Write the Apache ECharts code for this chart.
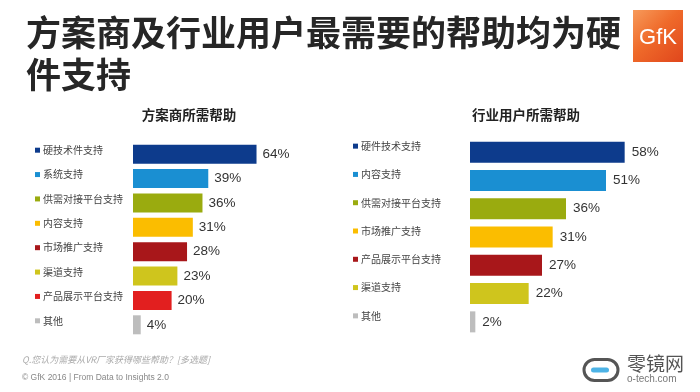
<!DOCTYPE html>
<html>
<head>
<meta charset="utf-8">
<script src="https://cdn.jsdelivr.net/npm/echarts@6/dist/echarts.min.js"></script>
<style>
html,body{margin:0;padding:0;background:#fff;}
#c{width:700px;height:392px;}
</style>
</head>
<body>
<div id="c"></div>
<script>
// ---- data ----
const leftCategories = ['硬技术件支持','系统支持','供需对接平台支持','内容支持','市场推广支持','渠道支持','产品展示平台支持','其他'];
const leftValues = [64,39,36,31,28,23,20,4];
const rightCategories = ['硬件技术支持','内容支持','供需对接平台支持','市场推广支持','产品展示平台支持','渠道支持','其他'];
const rightValues = [58,51,36,31,27,22,2];
const mainTitleLine1 = '方案商及行业用户最需要的帮助均为硬';
const mainTitleLine2 = '件支持';
const leftSubtitle = '方案商所需帮助';
const rightSubtitle = '行业用户所需帮助';
const footnote1 = 'Q.您认为需要从VR厂家获得哪些帮助？[多选题]';
const footnote2 = '© GfK 2016 | From Data to Insights 2.0';

// ---- styles ----
const leftColors = ['#0d3b8c','#1a8fd2','#9aab0f','#fbbd00','#a8171a','#cfc51d','#e21f1f','#bdbdbd'];
const rightColors = ['#0d3b8c','#1a8fd2','#9aab0f','#fbbd00','#a8171a','#cfc51d','#bdbdbd'];
const CJK = '"Noto Sans CJK SC", "Noto Sans", sans-serif';

function richFor(colors){
  const r = { t: { fontSize: 10, color: '#444', fontFamily: CJK, padding: [0,0,0,3] } };
  colors.forEach((c,i)=>{ r['s'+i] = { width: 5, height: 5, backgroundColor: c, fontSize: 5 }; });
  return r;
}

const chart = echarts.init(document.getElementById('c'), null, {renderer:'canvas'});
chart.setOption({
  animation: false,
  backgroundColor: '#fff',
  grid: [
    { left: 133, top: 142, width: 193, height: 195 },
    { left: 470, top: 138, width: 200, height: 198 }
  ],
  xAxis: [
    { gridIndex: 0, type: 'value', min: 0, max: 100, show: false },
    { gridIndex: 1, type: 'value', min: 0, max: 75, show: false }
  ],
  yAxis: [
    { gridIndex: 0, type: 'category', inverse: true, data: leftCategories,
      axisLine: {show:false}, axisTick: {show:false}, splitLine: {show:false},
      axisLabel: { align: 'left', margin: 98, padding: [0,0,8,0],
        formatter: (v,i)=>'{s'+i+'| }{t|'+v+'}', rich: richFor(leftColors) } },
    { gridIndex: 1, type: 'category', inverse: true, data: rightCategories,
      axisLine: {show:false}, axisTick: {show:false}, splitLine: {show:false},
      axisLabel: { align: 'left', margin: 117, padding: [0,0,12,0],
        formatter: (v,i)=>'{s'+i+'| }{t|'+v+'}', rich: richFor(rightColors) } }
  ],
  series: [
    { type: 'bar', xAxisIndex: 0, yAxisIndex: 0, barWidth: 19,
      data: leftValues.map((v,i)=>({ value: v, itemStyle: { color: leftColors[i] } })),
      label: { show: true, position: 'right', distance: 6, formatter: '{c}%',
        fontSize: 13.5, color: '#333', fontFamily: '"Liberation Sans", Arial, sans-serif' } },
    { type: 'bar', xAxisIndex: 1, yAxisIndex: 1, barWidth: 21,
      data: rightValues.map((v,i)=>({ value: v, itemStyle: { color: rightColors[i] } })),
      label: { show: true, position: 'right', distance: 7, formatter: '{c}%',
        fontSize: 13.5, color: '#333', fontFamily: '"Liberation Sans", Arial, sans-serif' } }
  ],
  graphic: [
    { type: 'text', x: 26, y: 33, style: { text: mainTitleLine1, font: 'bold 35px ' + CJK, fill: '#262626', verticalAlign: 'middle' } },
    { type: 'text', x: 26, y: 75, style: { text: mainTitleLine2, font: 'bold 35px ' + CJK, fill: '#262626', verticalAlign: 'middle' } },
    { type: 'text', x: 189, y: 115, style: { text: leftSubtitle, font: 'bold 13.5px ' + CJK, fill: '#222', align: 'center', verticalAlign: 'middle' } },
    { type: 'text', x: 526, y: 115, style: { text: rightSubtitle, font: 'bold 13.5px ' + CJK, fill: '#222', align: 'center', verticalAlign: 'middle' } },
    { type: 'text', x: 22, y: 360, style: { text: footnote1, font: 'italic 9px ' + CJK, fill: '#aaa', verticalAlign: 'middle' } },
    { type: 'text', x: 22, y: 378, style: { text: footnote2, font: '8.5px "Liberation Sans", Arial, sans-serif', fill: '#888', verticalAlign: 'middle' } },
    // GfK logo
    { type: 'rect', shape: { x: 633, y: 10, width: 50, height: 52 },
      style: { fill: new echarts.graphic.LinearGradient(0,0,1,1,[{offset:0,color:'#f79a5a'},{offset:0.45,color:'#ef6a2a'},{offset:1,color:'#e0461c'}]) } },
    { type: 'text', x: 658, y: 38, style: { text: 'GfK', font: '22px "Liberation Sans", Arial, sans-serif', fill: '#fff', align: 'center', verticalAlign: 'middle' } },
    // 零镜网 logo
    { type: 'rect', shape: { x: 584, y: 359.5, width: 34, height: 21, r: 10.5 },
      style: { fill: 'none', stroke: '#555', lineWidth: 3 } },
    { type: 'rect', shape: { x: 591, y: 367.5, width: 18, height: 5, r: 2.5 }, style: { fill: '#4db3e6' } },
    { type: 'text', x: 627, y: 364, style: { text: '零镜网', font: '19px ' + CJK, fill: '#555', verticalAlign: 'middle' } },
    { type: 'text', x: 627, y: 379, style: { text: 'o-tech.com', font: '10px "Liberation Sans", Arial, sans-serif', fill: '#777', verticalAlign: 'middle' } }
  ]
});
</script>
</body>
</html>
